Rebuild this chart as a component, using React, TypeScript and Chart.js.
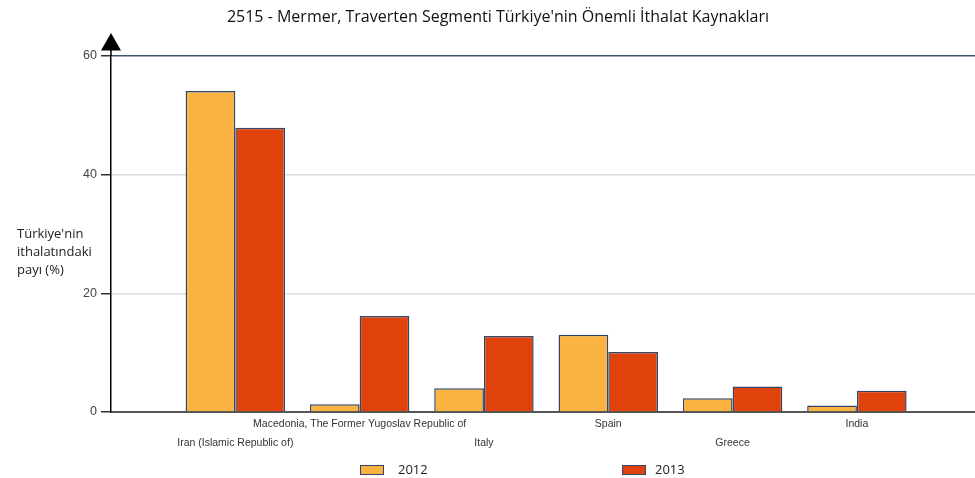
import { useEffect, useRef } from "react";
import { Chart, registerables } from "chart.js";

Chart.register(...registerables);

const chartTitle = "2515 - Mermer, Traverten Segmenti Türkiye'nin Önemli İthalat Kaynakları";
const yTitleLines = ["Türkiye'nin", "ithalatındaki", "payı (%)"];
const categories = [
  "Iran (Islamic Republic of)",
  "Macedonia, The Former Yugoslav Republic of",
  "Italy",
  "Spain",
  "Greece",
  "India",
];
const labelRows = [1, 0, 1, 0, 1, 0];
const seriesNames = ["2012", "2013"];
const values2012 = [54.1, 1.3, 4.0, 13.0, 2.3, 1.1];
const values2013 = [47.9, 16.2, 12.8, 10.1, 4.3, 3.6];
const seriesColors = ["#FAB340", "#DF420B"];
const yTicks = [0, 20, 40, 60];

const decorPlugin = {
  id: "decor",
  afterDraw(chart: any) {
    const ctx = chart.ctx;
    const area = chart.chartArea;
    const yScale = chart.scales.y;
    const ax = yScale.right;
    ctx.save();
    // axis arrow
    ctx.strokeStyle = "#000";
    ctx.lineWidth = 1.5;
    ctx.beginPath();
    ctx.moveTo(ax, area.top);
    ctx.lineTo(ax, area.top - 7);
    ctx.stroke();
    ctx.fillStyle = "#000";
    ctx.beginPath();
    ctx.moveTo(ax, area.top - 23);
    ctx.lineTo(ax - 10, area.top - 5.5);
    ctx.lineTo(ax + 10, area.top - 5.5);
    ctx.closePath();
    ctx.fill();

    // title
    ctx.fillStyle = "#111";
    ctx.font = '16px "Open Sans"';
    ctx.textAlign = "center";
    ctx.textBaseline = "middle";
    ctx.fillText(chartTitle, 498, 17);

    // y title
    ctx.font = '13px "Open Sans"';
    ctx.textAlign = "left";
    ctx.fillStyle = "#222";
    yTitleLines.forEach((t, i) => ctx.fillText(t, 17, 234 + i * 18));

    // legend
    const boxX = [360, 622];
    const textX = [398, 655];
    chart.data.datasets.forEach((ds: any, i: number) => {
      ctx.fillStyle = ds.backgroundColor;
      ctx.fillRect(boxX[i], 466, 23, 8);
      ctx.strokeStyle = "#34456a";
      ctx.lineWidth = 1;
      ctx.strokeRect(boxX[i] + 0.5, 465.5, 23, 9);
      ctx.fillStyle = "#222";
      ctx.font = '13px "Open Sans"';
      ctx.fillText(ds.label, textX[i], 470);
    });
    ctx.restore();
  },
};

export default function App() {
  const ref = useRef<HTMLCanvasElement>(null);
  useEffect(() => {
    document.body.style.margin = "0";
    const chart = new Chart(ref.current as HTMLCanvasElement, {
      type: "bar",
      data: {
        datasets: [values2012, values2013].map((vals, s) => ({
          label: seriesNames[s],
          data: vals.map((v, i) => ({ x: i + 1, y: v })),
          backgroundColor: seriesColors[s],
          borderColor: "#34456a",
          borderWidth: 1.5,
          categoryPercentage: 0.8,
          barPercentage: 1,
        })),
      } as any,
      options: {
        responsive: false,
        animation: false,
        layout: { padding: { top: 56, left: 0, right: 0, bottom: 0 } },
        plugins: {
          legend: { display: false },
          title: { display: false },
          tooltip: { enabled: false },
        },
        scales: {
          x: {
            type: "linear",
            min: 0,
            max: 6.95,
            offset: false,
            grid: { display: false, drawTicks: false },
            border: { display: true, color: "#555", width: 2 },
            afterBuildTicks: (s: any) => {
              s.ticks = categories.map((_, i) => ({ value: i + 1 }));
            },
            afterFit: (s: any) => {
              s.height = 66;
            },
            ticks: {
              autoSkip: false,
              maxRotation: 0,
              minRotation: 0,
              padding: 3,
              color: "#333",
              font: { family: "Liberation Sans", size: 10.5, lineHeight: 1.8 },
              callback: (v: any) => {
                const i = Math.round(Number(v)) - 1;
                const name = categories[i];
                return labelRows[i] === 0 ? [name, ""] : ["", name];
              },
            },
          },
          y: {
            min: 0,
            max: 60,
            afterBuildTicks: (s: any) => {
              s.ticks = yTicks.map((v) => ({ value: v }));
            },
            afterFit: (s: any) => {
              s.width = 111;
            },
            ticks: {
              padding: 4,
              color: "#444",
              font: { family: "Liberation Sans", size: 12.5 },
            },
            grid: {
              color: (c: any) =>
                c.tick && c.tick.value === 60 ? "#3f5272" : c.tick && c.tick.value === 0 ? "#555" : "#dcdcdc",
              lineWidth: 1.5,
              tickColor: "#333",
              tickLength: 10,
              drawTicks: true,
            },
            border: { display: true, color: "#000", width: 1.5 },
          },
        },
      } as any,
      plugins: [decorPlugin],
    });
    return () => chart.destroy();
  }, []);
  return (
    <div style={{ width: 975, height: 478 }}>
      <canvas ref={ref} width={975} height={478} style={{ display: "block" }} />
    </div>
  );
}
